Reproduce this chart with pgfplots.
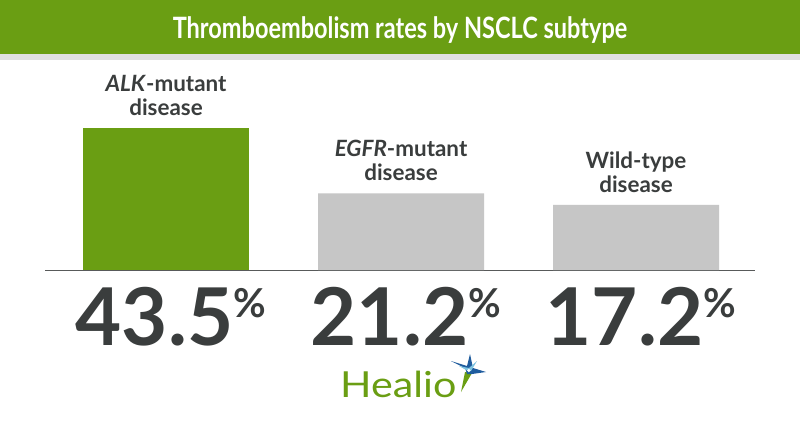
\documentclass[border=0pt]{standalone}
\usepackage{fontspec}
\usepackage{pgfplots}
\usepackage{pgfplotstable}
\pgfplotsset{compat=1.18}
\setmainfont{Lato}
\newfontfamily\titlefont[FakeStretch=0.8]{Lato}
\newfontfamily\logofont[FakeStretch=1.15]{Lato}
\definecolor{hgreen}{HTML}{6A9E13}
\definecolor{bargray}{HTML}{C6C6C6}
\definecolor{txt}{HTML}{3A3D3D}
\definecolor{hblue}{HTML}{1F5C9E}
\definecolor{hteal}{HTML}{7EC3E0}
\pgfplotstableread{
x v
0 43.5
}\datALK
\pgfplotstableread{
x v
1 21.2
2 17.2
}\datOther
\begin{document}
\begin{tikzpicture}[x=1bp,y=1bp]
\useasboundingbox (0,0) rectangle (800,420);
\fill[white] (0,0) rectangle (800,420);
\fill[hgreen] (0,366) rectangle (800,420);
\fill[black!12] (0,360) rectangle (800,366);
\node[text=white, font=\titlefont\bfseries\fontsize{29.5}{32}\selectfont] at (400,390) {Thromboembolism rates by NSCLC subtype};
\begin{axis}[at={(45bp,150bp)}, anchor=south west,
  x=235bp, y=2.928bp, xmin=-0.515, xmax=2.506, ymin=0, ymax=48.5,
  axis y line=none, axis x line*=bottom,
  x axis line style={draw=txt!85, line width=1pt, -},
  xtick=\empty, ytick=\empty, clip=false,
  ybar, bar width=166bp, bar shift=0pt]
\addplot[fill=hgreen, draw=none] table[x=x, y expr=\thisrow{v}+5] {\datALK};
\addplot[fill=bargray, draw=none] table[x=x, y expr=\thisrow{v}+5] {\datOther};
\node[anchor=south, inner sep=0, align=center, text=txt, font=\bfseries\fontsize{22.5}{24}\selectfont, yshift=12bp] at (axis cs:0,48.5) {\textit{ALK}-mutant\\disease};
\node[anchor=south, inner sep=0, align=center, text=txt, font=\bfseries\fontsize{22.5}{24}\selectfont, yshift=12bp] at (axis cs:1,26.2) {\textit{EGFR}-mutant\\disease};
\node[anchor=south, inner sep=0, align=center, text=txt, font=\bfseries\fontsize{22.5}{24}\selectfont, yshift=12bp] at (axis cs:2,22.2) {Wild-type\\disease};
\node[anchor=base, inner sep=0, text=txt, font=\bfseries\fontsize{80}{80}\selectfont, yshift=-75bp] at (axis cs:0.02,0) {43.5\raisebox{28bp}{\fontsize{40}{40}\selectfont\%}};
\node[anchor=base, inner sep=0, text=txt, font=\bfseries\fontsize{80}{80}\selectfont, yshift=-75bp] at (axis cs:1.02,0) {21.2\raisebox{28bp}{\fontsize{40}{40}\selectfont\%}};
\node[anchor=base, inner sep=0, text=txt, font=\bfseries\fontsize{80}{80}\selectfont, yshift=-75bp] at (axis cs:2.02,0) {17.2\raisebox{28bp}{\fontsize{40}{40}\selectfont\%}};
\end{axis}
% Healio logo
\node[anchor=base west, inner sep=0, text=hgreen, font=\logofont\fontsize{36}{36}\selectfont] at (340,23) {Healio};
\begin{scope}[shift={(468,49)}]
\fill[hgreen] (-3,-1) -- (-7,-21) -- (4,-2) -- cycle;
\fill[hblue] (-3,3) -- (-17,10) -- (-1,5) -- (2,17) -- (5,3) -- (18,-1) -- (4,-3) -- (-1,-3) -- cycle;
\fill[hteal] (0,0) -- (-9,5) -- (1,3) -- (9,10) -- (3,0) -- cycle;
\fill[white] (0.8,0.5) circle (1.8);
\end{scope}
\end{tikzpicture}
\end{document}
